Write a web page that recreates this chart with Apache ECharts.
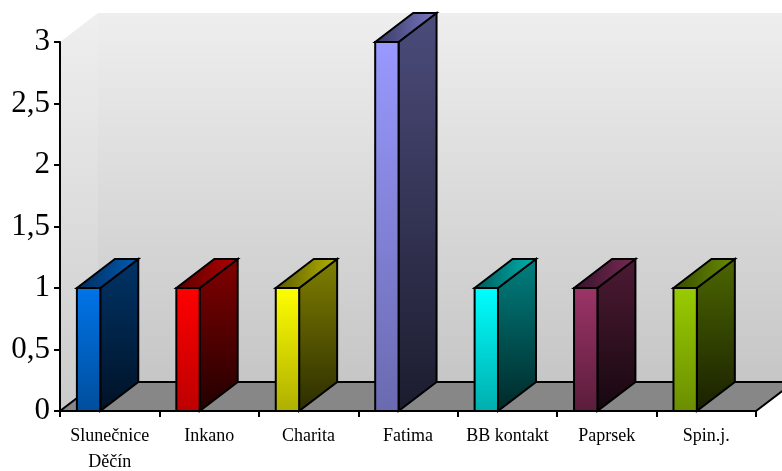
<!DOCTYPE html>
<html>
<head>
<meta charset="utf-8">
<script src="https://cdn.jsdelivr.net/npm/echarts@6/dist/echarts.min.js"></script>
<style>html,body{margin:0;padding:0;background:#fff}#c{width:782px;height:471px}</style>
</head>
<body>
<div id="c"></div>
<script>
const categories = ['Slunečnice\nDěčín', 'Inkano', 'Charita', 'Fatima', 'BB kontakt', 'Paprsek', 'Spin.j.'];
const values = [1, 1, 1, 3, 1, 1, 1];
const yMin = 0, yMax = 3, yStep = 0.5;

const frontColors = [['#0074e8','#004e9c'],['#ff0000','#bc0000'],['#ffff00','#aeae00'],['#9999ff','#6a6ab0'],['#00ffff','#00adad'],['#9c3468','#5a1d3b'],['#99cc00','#6a8e00']];
const sideColors = [['#003468','#001226'],['#820000','#220000'],['#808000','#2c2c00'],['#4c4c7c','#1c1c2e'],['#008080','#002828'],['#4e1a34','#16070f'],['#4d6600','#182000']];
const topColors = [['#002c5c','#005cb4'],['#5a0000','#b40000'],['#5a5a00','#b4b400'],['#363660','#7a7ac4'],['#005858','#00b4b4'],['#36122a','#7a2a54'],['#384a00','#6a8e00']];

const FONT = "'Liberation Serif','Times New Roman',serif";
const DX = 38, DY = -29;

function lin(c, x2, y2) {
  return {type:'linear', x:0, y:0, x2:x2, y2:y2, colorStops:[{offset:0,color:c[0]},{offset:1,color:c[1]}]};
}

const chart = echarts.init(document.getElementById('c'), null, {renderer:'canvas'});
chart.setOption({
  animation: false,
  backgroundColor: '#ffffff',
  grid: {left: 60, right: 26, top: 42, bottom: 60, containLabel: false, outerBoundsMode: 'none'},
  xAxis: {
    type: 'category', data: categories, z: 10,
    axisLine: {lineStyle: {color: '#000', width: 2}},
    axisTick: {show: true, length: 6, lineStyle: {color: '#000', width: 2}},
    axisLabel: {color: '#000', fontFamily: FONT, fontSize: 18, lineHeight: 26, margin: 12, interval: 0},
    splitLine: {show: false}
  },
  yAxis: {
    type: 'value', min: yMin, max: yMax, interval: yStep, z: 10,
    axisLine: {show: true, lineStyle: {color: '#000', width: 2}},
    axisTick: {show: true, length: 6, lineStyle: {color: '#000', width: 2}},
    axisLabel: {color: '#000', fontFamily: FONT, fontSize: 31, margin: 10,
      formatter: v => String(v).replace('.', ',')},
    splitLine: {show: false}
  },
  series: [
    {
      type: 'custom', z: 1, silent: true, clip: false,
      data: [[0]],
      renderItem: function (params, api) {
        const cs = params.coordSys;
        const x0 = cs.x, x1 = cs.x + cs.width, yT = cs.y, yB = cs.y + cs.height;
        return {type: 'group', children: [
          {type: 'polygon', shape: {points: [[x0+DX, yT+DY],[x1+DX+40, yT+DY],[x1+DX+40, yB+DY],[x0+DX, yB+DY]]},
            style: {fill: lin(['#eeeeee','#c6c6c6'], 0, 1), stroke: null}},
          {type: 'polygon', shape: {points: [[x0, yT],[x0+DX, yT+DY],[x0+DX, yB+DY],[x0, yB]]},
            style: {fill: lin(['#efefef','#cbcbcb'], 0, 1), stroke: null}},
          {type: 'polygon', shape: {points: [[x0, yB],[x0+DX, yB+DY],[x1+DX, yB+DY],[x1, yB]]},
            style: {fill: '#878787', stroke: '#000', lineWidth: 2, lineJoin: 'miter'}}
        ]};
      }
    },
    {
      type: 'custom', z: 2, silent: true, clip: false,
      data: values.map((v, i) => [i, v]),
      renderItem: function (params, api) {
        const i = api.value(0);
        const c = api.coord([i, api.value(1)]);
        const base = api.coord([i, 0]);
        const bw = api.size([1, 0])[0];
        const start = c[0] - bw / 2;
        const l = start + 0.17 * bw, r = start + 0.405 * bw;
        const yt = c[1], yb = base[1];
        const k = params.dataIndex;
        const st = {stroke: '#000', lineWidth: 2, lineJoin: 'miter'};
        return {type: 'group', children: [
          {type: 'polygon', shape: {points: [[r, yt],[r+DX, yt+DY],[r+DX, yb+DY],[r, yb]]},
            style: Object.assign({fill: lin(sideColors[k], 0, 1)}, st)},
          {type: 'polygon', shape: {points: [[l, yt],[l+DX, yt+DY],[r+DX, yt+DY],[r, yt]]},
            style: Object.assign({fill: lin(topColors[k], 1, 0)}, st)},
          {type: 'rect', shape: {x: l, y: yt, width: r - l, height: yb - yt},
            style: Object.assign({fill: lin(frontColors[k], 0, 1)}, st)}
        ]};
      }
    }
  ]
});
</script>
</body>
</html>
